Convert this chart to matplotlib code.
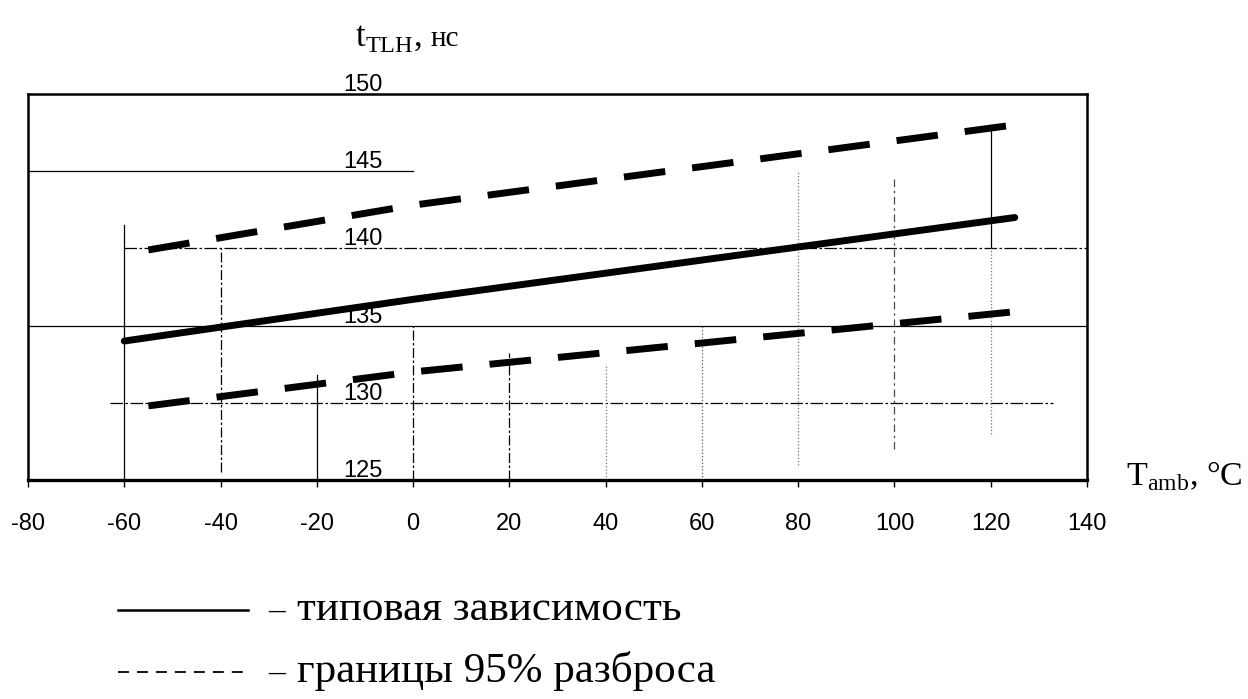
import matplotlib
matplotlib.use("Agg")
import matplotlib.pyplot as plt

plt.rcParams['font.family'] = ['Liberation Sans', 'DejaVu Sans']
plt.rcParams['mathtext.fontset'] = 'custom'
plt.rcParams['mathtext.rm'] = 'Liberation Serif'
plt.rcParams['axes.unicode_minus'] = False

# data
temp_typ = [-60, 0, 125]
t_typ = [134.0, 136.7, 142.0]
temp_bound = [-55, 0, 125]
t_upper = [139.9, 142.8, 148.0]
t_lower = [129.8, 132.0, 135.9]

x_ticks = [-80, -60, -40, -20, 0, 20, 40, 60, 80, 100, 120, 140]
y_ticks = [125, 130, 135, 140, 145, 150]

legend_labels = ['типовая зависимость', 'границы 95% разброса']

W, H = 1248, 699
fig = plt.figure(figsize=(W / 100, H / 100), dpi=100)
ax = fig.add_axes([28 / W, 1 - 480 / H, (1087 - 28) / W, (480 - 94) / H])
ax.set_xlim(-80, 140)
ax.set_ylim(125, 150)

# scanned-looking partial grid (value, from, to, style)
hgrid = [(145, -80, 0, '-'), (140, -60, 140, (0, (10, 2, 2, 2))),
         (135, -80, 140, '-'), (130, -63, 133, (0, (10, 2, 2, 2)))]
for v, a, b, ls in hgrid:
    ax.plot([a, b], [v, v], color='black', lw=0.9, ls=ls, zorder=1)
vgrid = [(-60, 125, 141.5, '-', 'black'), (-40, 125.5, 140, (0, (8, 2, 2, 2)), 'black'),
         (-20, 125, 131.8, '-', 'black'), (0, 125, 135, (0, (8, 2, 2, 2)), 'black'),
         (20, 125, 133.2, (0, (8, 2, 2, 2)), 'black'), (40, 125, 132.5, ':', '0.45'),
         (60, 125, 135, ':', '0.35'), (80, 126, 145, ':', '0.45'),
         (100, 127, 144.5, (0, (6, 3, 2, 3)), '0.3'), (120, 140, 147.7, '-', 'black'),
         (120, 128, 140, ':', '0.45')]
for t, a, b, ls, c in vgrid:
    ax.plot([t, t], [a, b], color=c, lw=0.9, ls=ls, zorder=1)

ax.plot(temp_typ, t_typ, color='black', lw=5, solid_capstyle='round', zorder=3)
ax.plot(temp_bound, t_upper, color='black', lw=5, dashes=(6.0, 3.9),
        dash_capstyle='butt', zorder=3)
ax.plot(temp_bound, t_lower, color='black', lw=5, dashes=(6.0, 3.9),
        dash_capstyle='butt', zorder=3)

ax.set_xticks(x_ticks)
ax.set_xticklabels([str(x) for x in x_ticks], fontsize=17)
ax.tick_params(axis='x', direction='out', length=5, width=1, pad=19)
ax.set_yticks([])
for v in y_ticks:
    ax.annotate(str(v), xy=(0, v), xytext=(-30, 3), textcoords='offset pixels',
                ha='right', va='baseline', fontsize=17)

for side in ['left', 'top', 'right']:
    ax.spines[side].set_linewidth(1.8)
ax.spines['bottom'].set_linewidth(2.4)

# overlay in pixel coordinates for titles and legend
ov = fig.add_axes([0, 0, 1, 1], zorder=5)
ov.set_xlim(0, W)
ov.set_ylim(H, 0)
ov.axis('off')
ov.patch.set_alpha(0)

serif = ['Liberation Serif', 'DejaVu Serif']
ov.text(355, 46, r'$\mathrm{t}_{\mathrm{TLH}}$,', fontsize=25, family=serif,
        va='baseline', ha='left')
ov.text(431, 46, 'нс', fontsize=21, family=serif, va='baseline', ha='left')
ov.text(1126, 485, r'$\mathrm{T}_{\mathrm{amb}}$, °C', fontsize=24.5, family=serif,
        va='baseline', ha='left')

ov.plot([118, 248], [610, 610], color='black', lw=1.8)
ov.plot([118, 250], [672, 672], color='black', lw=1.3, dashes=(6.1, 4.4),
        dash_capstyle='butt')
for y, lab in zip([620, 682], legend_labels):
    ov.text(268, y, '–', fontsize=24, family=serif, va='baseline')
    ov.text(297, y, lab, fontsize=31, family=serif, va='baseline')

fig.savefig('out.png', dpi=100)
